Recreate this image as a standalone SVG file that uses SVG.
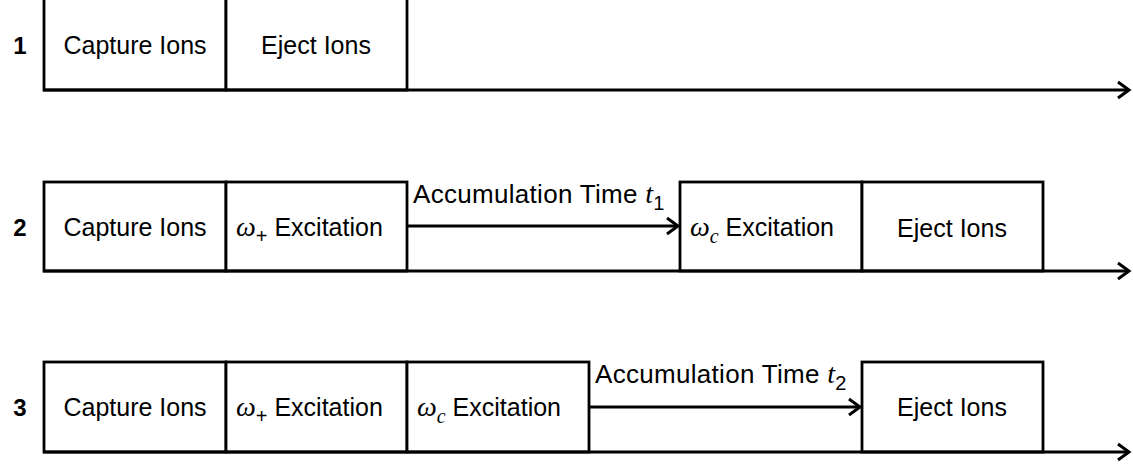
<svg xmlns="http://www.w3.org/2000/svg" width="1133" height="465" viewBox="0 0 1133 465">
<defs>
<marker id="ah" markerWidth="16" markerHeight="20" refX="13" refY="10" orient="auto" markerUnits="userSpaceOnUse">
<path d="M2,2 L13,10 L2,18" fill="none" stroke="#000" stroke-width="3"/>
</marker>
</defs>
<style>
.box{fill:#fff;stroke:#000;stroke-width:2.8}
.ax{stroke:#000;stroke-width:3.2;fill:none}
.ln{stroke:#000;stroke-width:3;fill:none}
text{font-family:"Liberation Sans",Arial,sans-serif;font-size:25px;fill:#000}
.num{font-weight:bold;text-anchor:middle;font-size:24px}
.c{text-anchor:middle}
.acc{font-size:26px;letter-spacing:0.3px}
.m{font-family:"Liberation Serif","DejaVu Serif",serif;font-style:italic;font-size:28px}
.s{font-size:20px}
.ms{font-family:"Liberation Serif","DejaVu Serif",serif;font-style:italic;font-size:20px}
</style>
<rect width="1133" height="465" fill="#fff"/>
<g id="row1">
<text class="num" x="20" y="54">1</text>
<g id="r1-capture"><rect class="box" x="44" y="-2" width="182" height="92"/><text class="c" x="135" y="54">Capture Ions</text></g>
<g id="r1-eject"><rect class="box" x="226" y="-2" width="181" height="92"/><text class="c" x="316" y="54">Eject Ions</text></g>
</g>
<g id="row2">
<text class="num" x="20" y="236">2</text>
<g id="r2-capture"><rect class="box" x="44" y="182" width="182" height="89"/><text class="c" x="135" y="236">Capture Ions</text></g>
<g id="r2-wplus"><rect class="box" x="226" y="182" width="181" height="89"/><text x="236" y="236"><tspan class="m">ω</tspan><tspan class="s" dy="7">+</tspan><tspan dy="-7"> Excitation</tspan></text></g>
<g id="r2-wc"><rect class="box" x="680" y="182" width="182" height="89"/><text x="690" y="236"><tspan class="m">ω</tspan><tspan class="ms" dy="7">c</tspan><tspan dy="-7"> Excitation</tspan></text></g>
<g id="r2-eject"><rect class="box" x="862" y="182" width="181" height="89"/><text class="c" x="952" y="237">Eject Ions</text></g>
<text class="acc" x="413" y="203">Accumulation Time <tspan class="m">t</tspan><tspan class="s" dy="7">1</tspan></text>
</g>
<g id="row3">
<text class="num" x="20" y="416">3</text>
<g id="r3-capture"><rect class="box" x="44" y="362" width="182" height="90"/><text class="c" x="135" y="416">Capture Ions</text></g>
<g id="r3-wplus"><rect class="box" x="226" y="362" width="181" height="90"/><text x="236" y="416"><tspan class="m">ω</tspan><tspan class="s" dy="7">+</tspan><tspan dy="-7"> Excitation</tspan></text></g>
<g id="r3-wc"><rect class="box" x="407" y="362" width="182" height="90"/><text x="417" y="416"><tspan class="m">ω</tspan><tspan class="ms" dy="7">c</tspan><tspan dy="-7"> Excitation</tspan></text></g>
<g id="r3-eject"><rect class="box" x="862" y="362" width="181" height="90"/><text class="c" x="952" y="416">Eject Ions</text></g>
<text class="acc" x="595" y="383">Accumulation Time <tspan class="m">t</tspan><tspan class="s" dy="7">2</tspan></text>
</g>
<g id="connectors">
<line class="ax" x1="43" y1="90" x2="1129" y2="90" marker-end="url(#ah)"/>
<line class="ax" x1="43" y1="271" x2="1129" y2="271" marker-end="url(#ah)"/>
<line class="ax" x1="43" y1="452" x2="1129" y2="452" marker-end="url(#ah)"/>
<line class="ln" x1="407" y1="226" x2="678" y2="226" marker-end="url(#ah)"/>
<line class="ln" x1="589" y1="407" x2="860" y2="407" marker-end="url(#ah)"/>
</g>
</svg>
